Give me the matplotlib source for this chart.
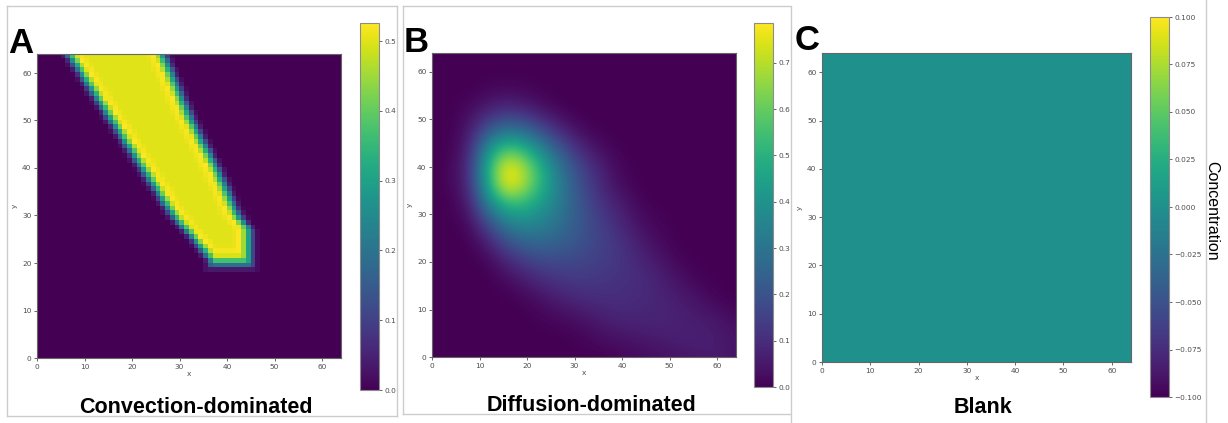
import matplotlib.pyplot as plt
import numpy as np
from matplotlib.lines import Line2D

# ---- data ----
# panel A: band edges (data units) and the cross-edge profile
a_left_y = [20, 25, 30, 40, 50, 64]
a_left_x = [37, 33, 28.5, 22, 15.5, 6.5]
a_right_y = [20, 27, 30, 40, 50, 64]
a_right_x = [44.8, 44.8, 42.3, 37.8, 32.5, 26.5]
a_bottom = 19.8
a_prof_d = [-2, -1, 0, 1, 2, 4]
a_prof_v = [0.0, 0.05, 0.25, 0.42, 0.526, 0.50]
a_vmax = 0.526

# panel B: concentration sampled every 4 units, rows from y=64 down to y=0
b_grid = np.array([
    [0, 0, 0, 0, 0, 0, 0, 0, 0, 0, 0, 0, 0, 0, 0, 0, 0],
    [0, 0, 0, 0, 0, 0, 0, 0, 0, 0, 0, 0, 0, 0, 0, 0, 0],
    [0, 0, 0, .01, .02, .01, 0, 0, 0, 0, 0, 0, 0, 0, 0, 0, 0],
    [0, 0, .02, .07, .10, .07, .03, 0, 0, 0, 0, 0, 0, 0, 0, 0, 0],
    [0, 0, .05, .20, .28, .24, .14, .06, .01, 0, 0, 0, 0, 0, 0, 0, 0],
    [0, 0, .08, .40, .56, .47, .31, .17, .07, .02, 0, 0, 0, 0, 0, 0, 0],
    [0, .01, .10, .52, .80, .66, .44, .26, .14, .06, .01, 0, 0, 0, 0, 0, 0],
    [0, .01, .09, .50, .80, .66, .46, .29, .17, .08, .02, 0, 0, 0, 0, 0, 0],
    [0, 0, .06, .35, .52, .50, .40, .29, .19, .11, .06, .01, 0, 0, 0, 0, 0],
    [0, 0, .02, .18, .34, .37, .33, .27, .20, .14, .08, .03, .01, 0, 0, 0, 0],
    [0, 0, 0, .07, .19, .25, .26, .23, .19, .15, .11, .06, .02, 0, 0, 0, 0],
    [0, 0, 0, .01, .08, .14, .17, .17, .16, .14, .12, .08, .05, .01, 0, 0, 0],
    [0, 0, 0, 0, .02, .06, .10, .12, .13, .12, .11, .10, .07, .04, .01, 0, 0],
    [0, 0, 0, 0, 0, .01, .04, .07, .09, .10, .10, .09, .08, .06, .04, .01, 0],
    [0, 0, 0, 0, 0, 0, .01, .02, .04, .06, .08, .08, .08, .07, .06, .05, .02],
    [0, 0, 0, 0, 0, 0, 0, 0, .01, .03, .04, .05, .06, .07, .07, .06, .04],
    [0, 0, 0, 0, 0, 0, 0, 0, 0, 0, .01, .02, .03, .04, .05, .06, .04],
])
b_vmax = 0.786

# panel C: blank field
c_field = np.zeros((64, 64))
c_vmin, c_vmax = -0.1, 0.1

axis_ticks = [0, 10, 20, 30, 40, 50, 60]
a_cticks = [0.0, 0.1, 0.2, 0.3, 0.4, 0.5]
b_cticks = [0.0, 0.1, 0.2, 0.3, 0.4, 0.5, 0.6, 0.7]
c_cticks = [-0.1, -0.075, -0.05, -0.025, 0.0, 0.025, 0.05, 0.075, 0.1]

# build panel A field on the 64x64 grid
yc = np.arange(64) + 0.5
xc = np.arange(64) + 0.5
X, Y = np.meshgrid(xc, yc)
xl = np.interp(yc, a_left_y, a_left_x)[:, None]
xr = np.interp(yc, a_right_y, a_right_x)[:, None]
dist = np.minimum(np.minimum(X - xl, xr - X), Y - a_bottom)
a_field = np.interp(dist, a_prof_d, a_prof_v)

# ---- layout (pixel boxes) ----
W, H = 1228, 423
fig = plt.figure(figsize=(W / 100, H / 100), dpi=100)


def box(x0, y0, x1, y1):
    return [x0 / W, 1 - y1 / H, (x1 - x0) / W, (y1 - y0) / H]


def style_axes(ax):
    ax.set_xlim(0, 64)
    ax.set_ylim(0, 64)
    ax.set_xticks(axis_ticks)
    ax.set_yticks(axis_ticks)
    ax.tick_params(labelsize=5.3, length=2.5, width=0.6, pad=1.5,
                   colors='0.3')
    ax.set_xlabel('x', fontsize=5.3, labelpad=1, color='0.3')
    ax.set_ylabel('y', fontsize=5.3, labelpad=3, color='0.3')
    for s in ax.spines.values():
        s.set_color('0.4')
        s.set_linewidth(0.8)


def style_cbar(cb, ticks, fmt):
    cb.set_ticks(ticks)
    cb.set_ticklabels([fmt(t) for t in ticks])
    cb.ax.tick_params(labelsize=5.3, length=2.5, width=0.6, pad=1.5,
                      colors='0.3')
    cb.outline.set_edgecolor('0.55')
    cb.outline.set_linewidth(0.8)


big = dict(fontsize=25, fontweight='bold', family='Liberation Sans',
           va='baseline', ha='left')
title = dict(fontsize=15.5, fontweight='bold', family='Liberation Sans',
             va='baseline', ha='center')

# panel A
ax_a = fig.add_axes(box(37, 54, 341, 358))
im_a = ax_a.imshow(a_field, origin='lower', extent=[0, 64, 0, 64],
                   cmap='viridis', vmin=0, vmax=a_vmax,
                   interpolation='nearest', aspect='auto')
style_axes(ax_a)
cax_a = fig.add_axes(box(360, 23, 379, 390))
cb_a = fig.colorbar(im_a, cax=cax_a)
style_cbar(cb_a, a_cticks, lambda t: f'{t:.1f}')
fig.text(8 / W, 1 - 53 / H, 'A', **big)
fig.text(196 / W, 1 - 413 / H, 'Convection-dominated', **title)

# panel B
ax_b = fig.add_axes(box(432, 53, 736, 357))
im_b = ax_b.imshow(b_grid, origin='upper', extent=[-2, 66, -2, 66],
                   cmap='viridis', vmin=0, vmax=b_vmax,
                   interpolation='bicubic', aspect='auto')
style_axes(ax_b)
cax_b = fig.add_axes(box(754, 23, 773, 387))
cb_b = fig.colorbar(im_b, cax=cax_b)
style_cbar(cb_b, b_cticks, lambda t: f'{t:.1f}')
fig.text(404 / W, 1 - 52 / H, 'B', **big)
fig.text(591 / W, 1 - 411 / H, 'Diffusion-dominated', **title)

# panel C
ax_c = fig.add_axes(box(822, 53, 1131, 362))
im_c = ax_c.imshow(c_field, origin='lower', extent=[0, 64, 0, 64],
                   cmap='viridis', vmin=c_vmin, vmax=c_vmax,
                   interpolation='nearest', aspect='auto')
style_axes(ax_c)
cax_c = fig.add_axes(box(1150, 17, 1169, 397))
cb_c = fig.colorbar(im_c, cax=cax_c)
style_cbar(cb_c, c_cticks, lambda t: f'{t:.3f}'.replace('-', '\u2212'))
fig.text(795 / W, 1 - 50 / H, 'C', **big)
fig.text(983 / W, 1 - 413 / H, 'Blank', **title)
fig.text(1212 / W, 1 - 211 / H, 'Concentration', rotation=270,
         fontsize=11.5, family='Liberation Sans', ha='center', va='center')

# light gray frames around the pasted panels
frame_lines = [
    ([7, 397], [6, 6]), ([7, 7], [6, 416]), ([7, 397], [416, 416]),
    ([397, 397], [6, 416]),
    ([403, 790], [6, 6]), ([403, 403], [6, 414]), ([403, 790], [414, 414]),
    ([791, 791], [6, 423]), ([1206, 1206], [0, 423]),
]
for xs, ys in frame_lines:
    fig.add_artist(Line2D([x / W for x in xs], [1 - y / H for y in ys],
                          color='0.8', linewidth=1))

fig.savefig('out.png', dpi=100)
